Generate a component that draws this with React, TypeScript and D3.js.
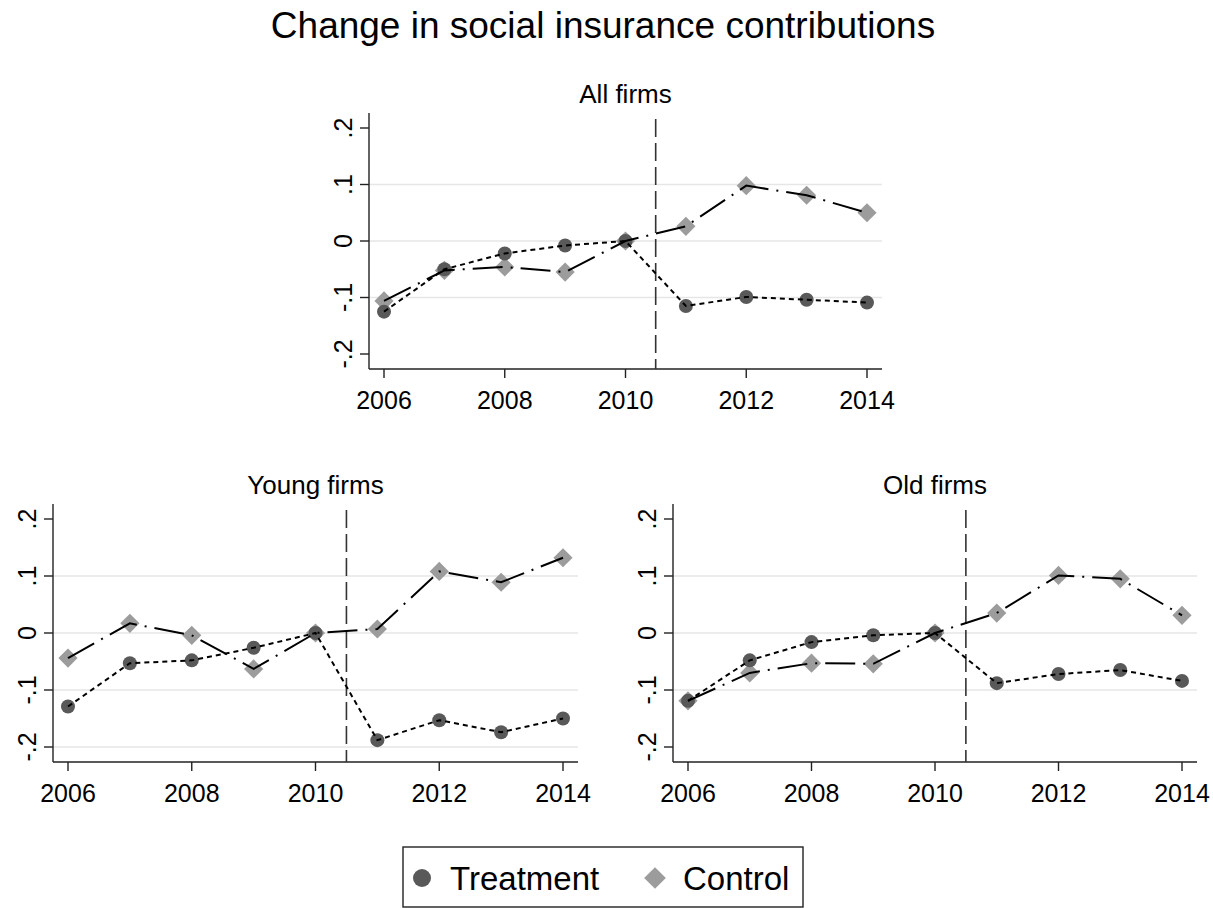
import React from "react";
import * as d3 from "d3";

// Event-study style series: change in social insurance contributions by year
const years = [2006, 2007, 2008, 2009, 2010, 2011, 2012, 2013, 2014];

const allTreatment = [-0.125, -0.05, -0.022, -0.008, 0, -0.115, -0.099, -0.104, -0.109];
const allControl = [-0.106, -0.052, -0.046, -0.055, 0, 0.026, 0.098, 0.081, 0.05];

const youngTreatment = [-0.129, -0.053, -0.048, -0.026, 0, -0.188, -0.153, -0.174, -0.15];
const youngControl = [-0.044, 0.017, -0.004, -0.063, 0, 0.007, 0.108, 0.089, 0.132];

const oldTreatment = [-0.119, -0.048, -0.016, -0.004, 0, -0.088, -0.072, -0.065, -0.084];
const oldControl = [-0.119, -0.07, -0.053, -0.054, 0, 0.035, 0.101, 0.095, 0.031];

const xTickValues = [2006, 2008, 2010, 2012, 2014];
const yTickValues = [-0.2, -0.1, 0, 0.1, 0.2];
const yTickLabels = ["-.2", "-.1", "0", ".1", ".2"];
const policyYear = 2010.5;

const mainTitle = "Change in social insurance contributions";
const legendLabels = ["Treatment", "Control"];

const FONT = "'Liberation Sans', Arial, Helvetica, sans-serif";
const TREAT_FILL = "#595959";
const CONTROL_FILL = "#9c9c9c";
const GRID = "#e6e6e6";

type PanelProps = {
  title: string;
  treatment: number[];
  control: number[];
  grid: number[];
  left: number;
  right: number;
  top: number;
  bottom: number;
};

function Panel({ title, treatment, control, grid, left, right, top, bottom }: PanelProps) {
  const pad = 15;
  const x = d3.scaleLinear().domain([2006, 2014]).range([left + pad, right - pad]);
  const y = d3.scaleLinear().domain([-0.2, 0.2]).range([bottom - pad, top + pad]);

  const line = d3
    .line<[number, number]>()
    .x((d) => x(d[0]))
    .y((d) => y(d[1]));

  const tPts = years.map((yr, i) => [yr, treatment[i]] as [number, number]);
  const cPts = years.map((yr, i) => [yr, control[i]] as [number, number]);
  const diamond = d3.symbol().type(d3.symbolDiamond2).size(235);

  return (
    <g>
      <text
        x={(left + right) / 2}
        y={top - 10}
        textAnchor="middle"
        fontFamily={FONT}
        fontSize={26}
        fill="#000"
      >
        {title}
      </text>

      {grid.map((v) => (
        <line key={"g" + v} x1={left} x2={right} y1={y(v)} y2={y(v)} stroke={GRID} strokeWidth={1.5} />
      ))}

      {/* axes */}
      <line x1={left} x2={left} y1={top} y2={bottom} stroke="#222" strokeWidth={1.4} />
      <line x1={left} x2={right} y1={bottom} y2={bottom} stroke="#222" strokeWidth={1.4} />

      {yTickValues.map((v, i) => (
        <g key={"y" + v}>
          <line x1={left - 9} x2={left} y1={y(v)} y2={y(v)} stroke="#222" strokeWidth={1.4} />
          <text
            transform={`translate(${left - 17},${y(v)}) rotate(-90)`}
            textAnchor="middle"
            fontFamily={FONT}
            fontSize={25}
            fill="#000"
          >
            {yTickLabels[i]}
          </text>
        </g>
      ))}

      {xTickValues.map((v) => (
        <g key={"x" + v}>
          <line x1={x(v)} x2={x(v)} y1={bottom} y2={bottom + 9} stroke="#222" strokeWidth={1.4} />
          <text x={x(v)} y={bottom + 40} textAnchor="middle" fontFamily={FONT} fontSize={25} fill="#000">
            {v}
          </text>
        </g>
      ))}

      {/* policy change marker */}
      <line
        x1={x(policyYear)}
        x2={x(policyYear)}
        y1={top + 6}
        y2={bottom}
        stroke="#333"
        strokeWidth={1.6}
        strokeDasharray="18,6"
      />

      {/* markers */}
      {cPts.map((p, i) => (
        <path
          key={"c" + i}
          d={diamond() as string}
          transform={`translate(${x(p[0])},${y(p[1])})`}
          fill={CONTROL_FILL}
        />
      ))}
      {tPts.map((p, i) => (
        <circle key={"t" + i} cx={x(p[0])} cy={y(p[1])} r={7} fill={TREAT_FILL} />
      ))}

      {/* connecting lines */}
      <path d={line(tPts) as string} fill="none" stroke="#000" strokeWidth={2} strokeDasharray="5,4" />
      <path d={line(cPts) as string} fill="none" stroke="#000" strokeWidth={2} strokeDasharray="30,8,2,8" />
    </g>
  );
}

export default function App() {
  const diamond = d3.symbol().type(d3.symbolDiamond2).size(300);
  return (
    <svg
      width={1213}
      height={908}
      style={{ position: "absolute", left: 0, top: 0, background: "#fff" }}
    >
      <rect width={1213} height={908} fill="#fff" />
      <text x={603} y={38} textAnchor="middle" fontFamily={FONT} fontSize={37} fill="#000">
        {mainTitle}
      </text>

      <Panel
        title="All firms"
        treatment={allTreatment}
        control={allControl}
        grid={[0.1, 0, -0.1]}
        left={369}
        right={882}
        top={113}
        bottom={369}
      />
      <Panel
        title="Young firms"
        treatment={youngTreatment}
        control={youngControl}
        grid={[0.1, 0, -0.1, -0.2]}
        left={53}
        right={578}
        top={504}
        bottom={762}
      />
      <Panel
        title="Old firms"
        treatment={oldTreatment}
        control={oldControl}
        grid={[0.1, 0, -0.1]}
        left={673}
        right={1197}
        top={504}
        bottom={762}
      />

      {/* legend */}
      <rect x={403} y={847} width={400} height={60} fill="#fff" stroke="#222" strokeWidth={1.4} />
      <circle cx={422} cy={878} r={9} fill={TREAT_FILL} />
      <text x={450} y={890} fontFamily={FONT} fontSize={33} fill="#000">
        {legendLabels[0]}
      </text>
      <path d={diamond() as string} transform="translate(655,878)" fill={CONTROL_FILL} />
      <text x={683} y={890} fontFamily={FONT} fontSize={33} fill="#000">
        {legendLabels[1]}
      </text>
    </svg>
  );
}
